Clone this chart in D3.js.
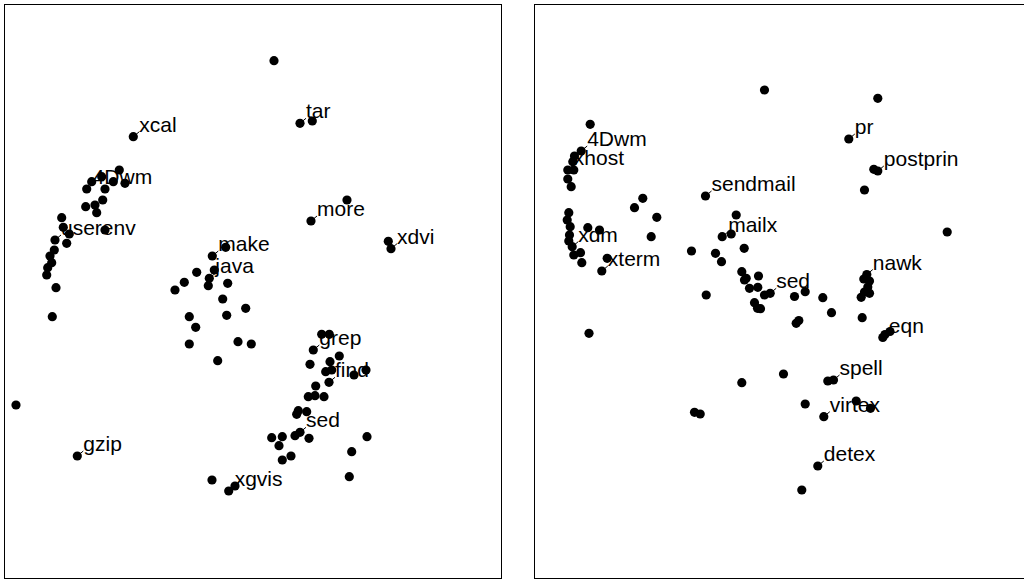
<!DOCTYPE html>
<html>
<head>
<meta charset="utf-8">
<script src="https://cdn.jsdelivr.net/npm/d3@7"></script>
<style>
    body { margin: 0; background: #fff; }
    svg text { font-family: "Liberation Sans", Arial, Helvetica, sans-serif; font-size: 21px; }
</style>
</head>
<body>
<div id="chart"></div>
<script>
// left panel: MDS coordinates (arbitrary units), names only for labelled points
const leftX = [2.695, 2.955, 3.078, 1.288, 1.148, 0.872, 0.822, 0.972, 1.088, 1.205,
    1.005, 0.982, 0.812, 0.905, 0.922, 0.572, 0.588, 0.648, 1.005, 0.622,
    0.505, 0.498, 0.455, 0.472, 0.432, 0.422, 0.515, 0.478, 0.115, 0.728,
    3.425, 3.065, 3.838, 3.865, 2.212, 2.078, 2.098, 1.922, 1.798, 1.705,
    2.048, 2.038, 2.232, 2.182, 2.412, 1.848, 1.912, 2.222, 1.848, 2.335,
    2.468, 2.132, 2.075, 2.305, 2.242, 3.172, 3.248, 3.088, 3.348, 3.055,
    3.255, 3.212, 3.272, 3.495, 3.615, 3.245, 3.112, 3.038, 3.105, 3.195,
    2.938, 3.022, 2.922, 2.955, 2.905, 3.045, 2.672, 2.778, 2.745, 2.865,
    2.778, 3.625, 3.472, 3.448];
const leftY = [5.178, 4.552, 4.575, 4.418, 4.085, 3.968, 3.895, 4.018, 3.968, 3.952,
    3.895, 3.785, 3.718, 3.735, 3.658, 3.608, 3.512, 3.445, 3.485, 3.352,
    3.385, 3.285, 3.225, 3.158, 3.108, 3.035, 2.908, 2.618, 1.735, 1.225,
    3.785, 3.575, 3.372, 3.298, 3.312, 3.225, 3.085, 3.062, 2.962, 2.885,
    3.002, 2.928, 2.952, 2.795, 2.702, 2.618, 2.512, 2.632, 2.345, 2.368,
    2.345, 2.178, 0.985, 0.925, 0.875, 2.442, 2.442, 2.285, 2.225, 2.142,
    2.168, 2.068, 2.085, 2.035, 2.085, 1.962, 1.925, 1.818, 1.828, 1.818,
    1.678, 1.668, 1.642, 1.462, 1.428, 1.402, 1.408, 1.418, 1.328, 1.225,
    1.185, 1.418, 1.268, 1.018];
const leftNames = ["", "tar", "", "xcal", "", "", "4Dwm", "", "", "",
    "", "", "", "", "", "", "", "", "", "",
    "userenv", "", "", "", "", "", "", "", "", "gzip",
    "", "more", "", "xdvi", "", "make", "", "", "", "",
    "java", "", "", "", "", "", "", "", "", "",
    "", "", "", "", "xgvis", "", "", "grep", "", "",
    "", "", "", "", "", "find", "", "", "", "",
    "", "", "", "sed", "", "", "", "", "", "",
    "", "", "", ""];

// right panel
const rightX = [2.300, 3.433, 3.143, 3.393, 3.433, 3.300, 4.127, 0.557, 0.467, 0.400,
    0.383, 0.333, 0.393, 0.333, 0.367, 1.083, 1.000, 1.223, 1.167, 1.710,
    0.343, 0.327, 0.357, 0.533, 0.650, 0.350, 0.343, 0.377, 0.393, 0.460,
    0.473, 0.727, 0.673, 0.545, 2.017, 1.967, 1.877, 1.570, 2.097, 1.810,
    1.870, 2.073, 2.117, 2.240, 2.100, 2.150, 2.233, 2.300, 2.357, 2.200,
    2.230, 2.260, 1.717, 2.600, 2.707, 2.883, 2.970, 2.617, 2.643, 3.323,
    3.293, 3.350, 3.333, 3.300, 3.350, 3.267, 3.277, 3.483, 3.505, 3.555,
    2.490, 2.073, 2.933, 2.990, 2.707, 2.893, 3.217, 3.360, 1.600, 1.657,
    2.833, 2.673];
const rightY = [4.885, 4.802, 4.395, 4.092, 4.075, 3.885, 3.465, 4.542, 4.275, 4.225,
    4.168, 4.085, 4.085, 3.995, 3.918, 3.802, 3.708, 3.612, 3.418, 3.825,
    3.658, 3.585, 3.518, 3.508, 3.485, 3.435, 3.375, 3.318, 3.235, 3.258,
    3.158, 3.202, 3.075, 2.452, 3.635, 3.445, 3.418, 3.275, 3.302, 3.252,
    3.168, 3.068, 3.002, 3.025, 2.985, 2.902, 2.912, 2.835, 2.852, 2.758,
    2.702, 2.698, 2.835, 2.820, 2.868, 2.808, 2.658, 2.552, 2.580, 3.040,
    2.995, 2.975, 2.915, 2.865, 2.852, 2.812, 2.608, 2.410, 2.440, 2.470,
    2.045, 1.958, 1.975, 1.985, 1.745, 1.618, 1.775, 1.702, 1.662, 1.645,
    1.125, 0.885];
const rightNames = ["", "", "pr", "", "postprin", "", "", "", "4Dwm", "",
    "", "xhost", "", "", "", "", "", "", "", "sendmail",
    "", "", "", "", "", "", "", "xdm", "", "",
    "", "", "xterm", "", "", "", "mailx", "", "", "",
    "", "", "", "", "", "", "", "", "sed", "",
    "", "", "", "", "", "", "", "", "", "nawk",
    "", "", "", "", "", "", "", "eqn", "", "",
    "", "", "", "spell", "", "virtex", "", "", "", "",
    "detex", ""];

const svg = d3.select("#chart").append("svg")
    .attr("width", 1024)
    .attr("height", 580);

function drawPanel(xs, ys, names, box) {
    let x = d3.scaleLinear().domain([0, box.xmax]).range([box.left, box.right]);
    let y = d3.scaleLinear().domain([0, box.ymax]).range([box.bottom, box.top]);

    let pts = xs.map((d, i) => ({x: d, y: ys[i], name: names[i]}));

    svg.append("rect")
        .attr("x", box.left)
        .attr("y", box.top)
        .attr("width", box.right - box.left)
        .attr("height", box.bottom - box.top)
        .attr("fill", "none")
        .attr("stroke", "#000")
        .attr("stroke-width", 1);

    let g = svg.append("g");

    g.selectAll("circle")
        .data(pts)
        .enter()
        .append("circle")
        .attr("cx", d => x(d.x))
        .attr("cy", d => y(d.y))
        .attr("r", 4.6)
        .attr("fill", "#000");

    let labelled = pts.filter(d => d.name !== "");

    // little tick from the point to the label
    g.selectAll("line")
        .data(labelled)
        .enter()
        .append("line")
        .attr("x1", d => x(d.x))
        .attr("y1", d => y(d.y))
        .attr("x2", d => x(d.x) + 6)
        .attr("y2", d => y(d.y) - 5)
        .attr("stroke", "#000")
        .attr("stroke-width", 1);

    g.selectAll("text")
        .data(labelled)
        .enter()
        .append("text")
        .attr("x", d => x(d.x) + 6)
        .attr("y", d => y(d.y) - 5)
        .attr("fill", "#000")
        .text(d => d.name);
}

drawPanel(leftX, leftY, leftNames, {left: 4.5, right: 501.5, top: 4.5, bottom: 578.5, xmax: 4.97, ymax: 5.74});
drawPanel(rightX, rightY, rightNames, {left: 534.5, right: 1030.5, top: 4.5, bottom: 578.5, xmax: 4.96, ymax: 5.74});
</script>
</body>
</html>
